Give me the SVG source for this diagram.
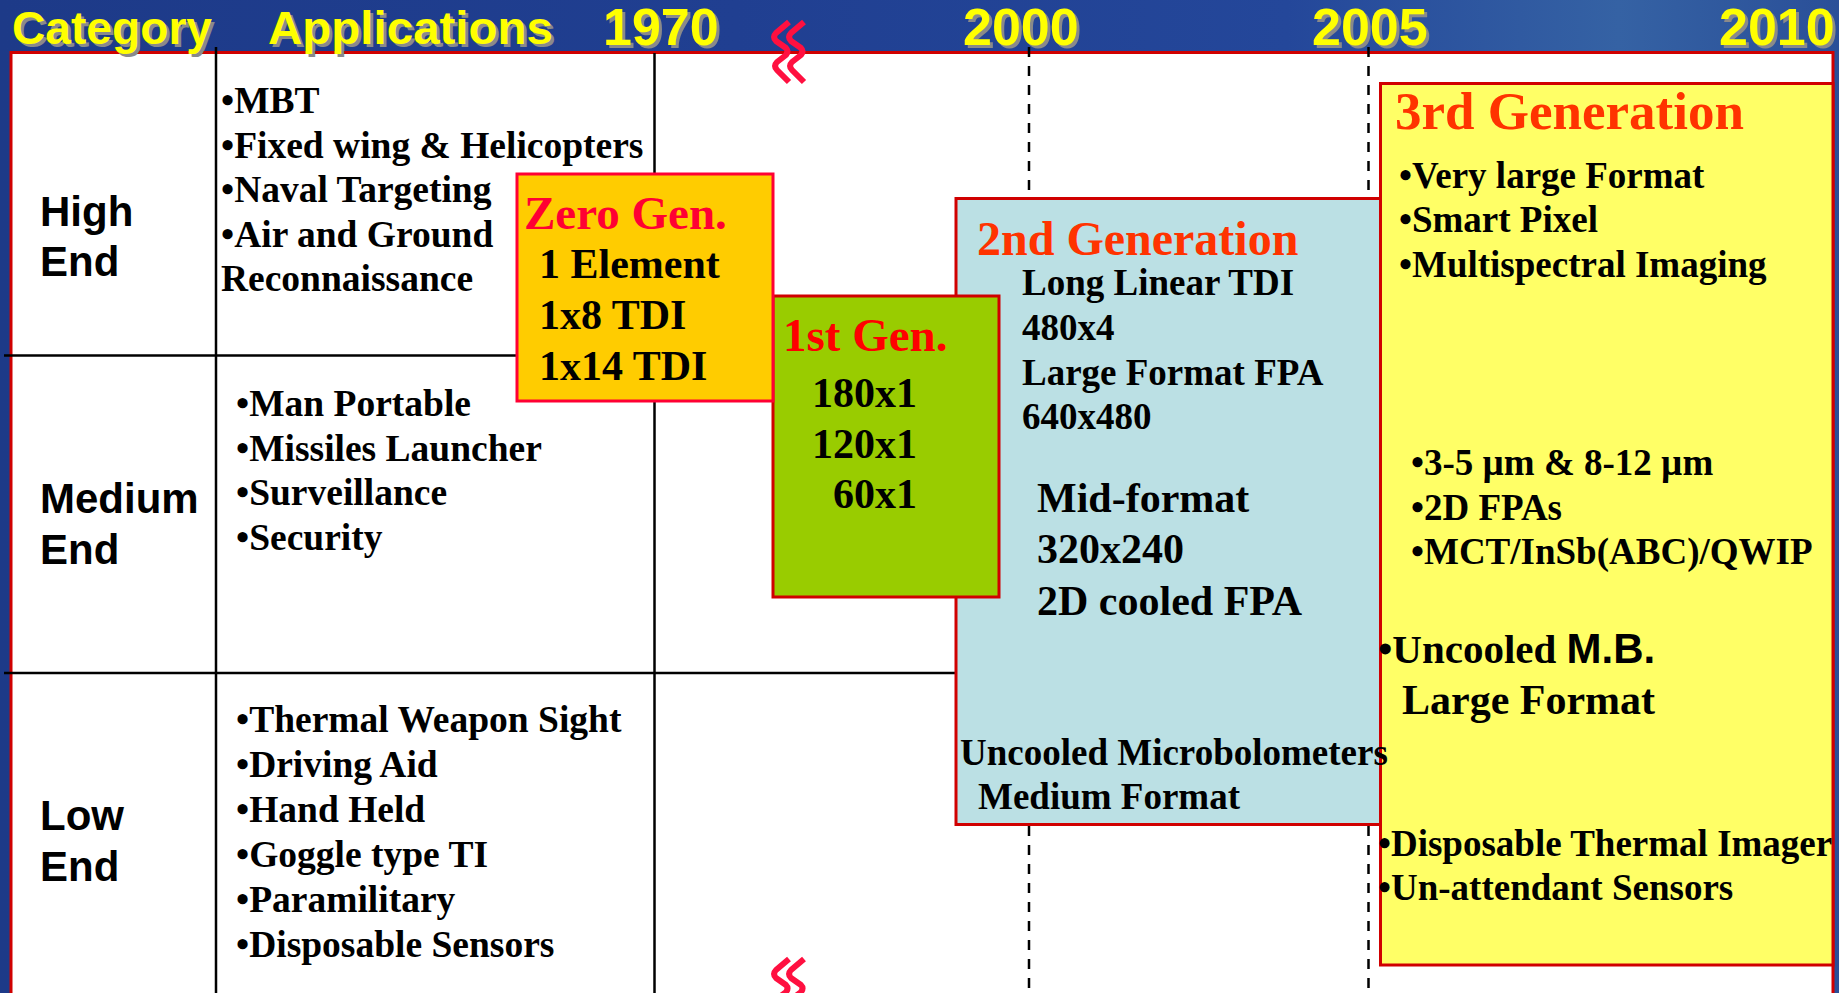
<svg xmlns="http://www.w3.org/2000/svg" width="1839" height="993" viewBox="0 0 1839 993">
<style>
.hdr{font-family:"Liberation Sans",Arial,sans-serif;font-weight:bold;fill:#FFFF00}
.sh{font-family:"Liberation Sans",Arial,sans-serif;font-weight:bold;fill:#8a8a8a}
.cat{font-family:"Liberation Sans",Arial,sans-serif;font-weight:bold;font-size:42px;fill:#000}
.app{font-family:"Liberation Serif","Times New Roman",serif;font-weight:bold;font-size:37.5px;fill:#000}
.t{font-family:"Liberation Serif","Times New Roman",serif;font-weight:bold;fill:#000}
.s37{font-size:37px}
.s42{font-size:42px}
.grid{stroke:#000;stroke-width:2.5;fill:none}
.dash{stroke:#000;stroke-width:2.5;stroke-dasharray:10 9;fill:none}
.brk{stroke:#FF1040;stroke-width:6;fill:none;stroke-linejoin:round}
</style>
<defs>
<linearGradient id="bg" x1="0" y1="0" x2="1" y2="0">
<stop offset="0" stop-color="#1d3a88"/>
<stop offset="0.4" stop-color="#203f91"/>
<stop offset="0.7" stop-color="#24479a"/>
<stop offset="0.88" stop-color="#3562a4"/>
<stop offset="1" stop-color="#2a4f98"/>
</linearGradient>
<path id="wave" d="M789,22 L776,33 Q772,37 776,41 L786,48 Q789,51 786,55 L777,62 Q773,66 777,70 L789,82"/>
</defs>
<rect x="0" y="0" width="1839" height="993" fill="url(#bg)"/>
<rect id="panel" x="11" y="52.5" width="1822" height="945" fill="#FFFFFF" stroke="#D00000" stroke-width="3"/>

<g id="header">
<text class="sh" x="15" y="47" font-size="46" textLength="200" lengthAdjust="spacingAndGlyphs">Category</text>
<text class="hdr" x="12" y="44" font-size="46" textLength="200" lengthAdjust="spacingAndGlyphs">Category</text>
<text class="sh" x="271" y="47" font-size="47" textLength="285" lengthAdjust="spacingAndGlyphs">Applications</text>
<text class="hdr" x="268" y="44" font-size="47" textLength="285" lengthAdjust="spacingAndGlyphs">Applications</text>
<text class="sh" x="606" y="48" font-size="52">1970</text>
<text class="hdr" x="603" y="45" font-size="52">1970</text>
<text class="sh" x="966" y="48" font-size="52">2000</text>
<text class="hdr" x="963" y="45" font-size="52">2000</text>
<text class="sh" x="1315" y="48" font-size="52">2005</text>
<text class="hdr" x="1312" y="45" font-size="52">2005</text>
<text class="sh" x="1722" y="48" font-size="52">2010</text>
<text class="hdr" x="1719" y="45" font-size="52">2010</text>
</g>

<g id="lines">
<line class="grid" x1="216" y1="47" x2="216" y2="993"/>
<line class="grid" x1="654.5" y1="53" x2="654.5" y2="993"/>
<line class="grid" x1="4" y1="355.5" x2="960" y2="355.5"/>
<line class="grid" x1="4" y1="673" x2="960" y2="673"/>
<line class="dash" x1="1029" y1="47" x2="1029" y2="993"/>
<line class="dash" x1="1368.5" y1="47" x2="1368.5" y2="993"/>
</g>

<g id="breaks">
<use href="#wave" class="brk"/>
<use href="#wave" class="brk" transform="translate(15,0)"/>
<use href="#wave" class="brk" transform="translate(0,937)"/>
<use href="#wave" class="brk" transform="translate(15,937)"/>
</g>

<g id="gen2-box"><rect x="956" y="198.5" width="424.5" height="626" fill="#BBE0E4" stroke="#D00000" stroke-width="3"/></g>
<g id="gen3-box"><rect x="1380.5" y="83.5" width="452.5" height="881.5" fill="#FFFF66" stroke="#D00000" stroke-width="3"/></g>
<g id="gen1-box"><rect x="773" y="296" width="226" height="301" fill="#99CC00" stroke="#D00000" stroke-width="3"/></g>
<g id="gen0-box"><rect x="517" y="174" width="256" height="227" fill="#FFCC00" stroke="#FF0033" stroke-width="3"/></g>

<g id="cat-high">
<text class="cat" x="40" y="226">High</text>
<text class="cat" x="40" y="276">End</text>
</g>
<g id="cat-medium">
<text class="cat" x="40" y="513">Medium</text>
<text class="cat" x="40" y="564">End</text>
</g>
<g id="cat-low">
<text class="cat" x="40" y="830">Low</text>
<text class="cat" x="40" y="881">End</text>
</g>

<g id="apps-high">
<text class="app" x="221" y="113">•MBT</text>
<text class="app" x="221" y="157.5">•Fixed wing &amp; Helicopters</text>
<text class="app" x="221" y="202">•Naval Targeting</text>
<text class="app" x="221" y="246.5">•Air and Ground</text>
<text class="app" x="221" y="291">Reconnaissance</text>
</g>
<g id="apps-medium">
<text class="app" x="236" y="416">•Man Portable</text>
<text class="app" x="236" y="461">•Missiles Launcher</text>
<text class="app" x="236" y="505">•Surveillance</text>
<text class="app" x="236" y="550">•Security</text>
</g>
<g id="apps-low">
<text class="app" x="236" y="732">•Thermal Weapon Sight</text>
<text class="app" x="236" y="777">•Driving Aid</text>
<text class="app" x="236" y="822">•Hand Held</text>
<text class="app" x="236" y="867">•Goggle type TI</text>
<text class="app" x="236" y="912">•Paramilitary</text>
<text class="app" x="236" y="957">•Disposable Sensors</text>
</g>

<g id="gen0">
<text class="t" x="524" y="229" font-size="47" style="fill:#FF0033">Zero Gen.</text>
<text class="t s42" x="539" y="278">1 Element</text>
<text class="t s42" x="539" y="329">1x8 TDI</text>
<text class="t s42" x="539" y="380">1x14 TDI</text>
</g>

<g id="gen1">
<text class="t" x="783" y="351" font-size="47" style="fill:#FF0000">1st Gen.</text>
<text class="t s42" x="812" y="407">180x1</text>
<text class="t s42" x="812" y="458">120x1</text>
<text class="t s42" x="833" y="508">60x1</text>
</g>

<g id="gen2">
<text class="t" x="977" y="255" font-size="48" style="fill:#FF3300">2nd Generation</text>
<text class="t s37" x="1022" y="295">Long Linear TDI</text>
<text class="t s37" x="1022" y="340">480x4</text>
<text class="t s37" x="1022" y="385">Large Format FPA</text>
<text class="t s37" x="1022" y="429">640x480</text>
<text class="t s42" x="1037" y="512">Mid-format</text>
<text class="t s42" x="1037" y="563">320x240</text>
<text class="t s42" x="1037" y="615">2D cooled FPA</text>
<text class="t s37" x="960" y="765">Uncooled Microbolometers</text>
<text class="t s37" x="978" y="809">Medium Format</text>
</g>

<g id="gen3">
<text class="t" x="1395" y="129" font-size="53" style="fill:#FF3300">3rd Generation</text>
<text class="t s37" x="1399" y="188">•Very large Format</text>
<text class="t s37" x="1399" y="232">•Smart Pixel</text>
<text class="t s37" x="1399" y="277">•Multispectral Imaging</text>
<text class="t s37" x="1411" y="475">•3-5 µm &amp; 8-12 µm</text>
<text class="t s37" x="1411" y="520">•2D FPAs</text>
<text class="t s37" x="1411" y="564">•MCT/InSb(ABC)/QWIP</text>
<text class="t" x="1378" y="663" font-size="41">•Uncooled <tspan font-family="Liberation Sans, Arial, sans-serif" font-size="42">M.B.</tspan></text>
<text class="t s42" x="1402" y="714">Large Format</text>
<text class="t s37" x="1378" y="856">•Disposable Thermal Imager</text>
<text class="t s37" x="1378" y="900">•Un-attendant Sensors</text>
</g>
</svg>
